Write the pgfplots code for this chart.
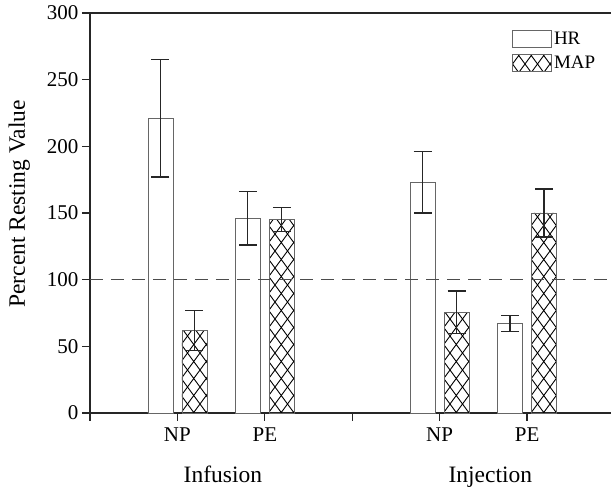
\documentclass[border=0pt]{standalone}
\usepackage{fontspec}
\setmainfont{Liberation Serif}
\usepackage{pgfplots}
\usepackage{pgfplotstable}
\pgfplotsset{compat=1.18}
\usetikzlibrary{patterns}

% big diamond crosshatch like the original
\pgfdeclarepatternformonly{xhatch}{\pgfqpoint{-1pt}{-1pt}}{\pgfqpoint{13.5pt}{18pt}}{\pgfqpoint{12.5pt}{17pt}}{%
  \pgfsetlinewidth{0.9pt}%
  \pgfpathmoveto{\pgfqpoint{0pt}{0pt}}\pgfpathlineto{\pgfqpoint{12.5pt}{17pt}}%
  \pgfpathmoveto{\pgfqpoint{0pt}{17pt}}\pgfpathlineto{\pgfqpoint{12.5pt}{0pt}}%
  \pgfusepath{stroke}}

\newcommand\tickfont{\fontsize{21}{24}\selectfont}
\newcommand\labfont{\fontsize{23.5}{26}\selectfont}
\newcommand\legfont{\fontsize{19}{21}\selectfont}

\pgfplotsset{
    boxleg/.style={legend image code/.code={\draw[##1] (0pt,-8.5pt) rectangle (39pt,8.5pt);}},
    errs/.style={error bars/.cd, y dir=both, y explicit,
        error bar style={line width=1.3pt, black!85},
        error mark options={rotate=90, mark size=9pt, line width=1.3pt, black!85}},
}

\pgfplotstableread{
x hr hrerr map maperr
1 221 44 62 15
2 146 20 145 9
4 173 23 75.5 16
5 67 6 150 18
}\datatable

\begin{document}
\begin{tikzpicture}
\path[use as bounding box] (-90pt,-76pt) rectangle (521pt,413pt);
\begin{axis}[
    at={(0,0)}, anchor=south west,
    scale only axis,
    width=521pt, height=400pt,
    xmin=0, xmax=5.96, ymin=0, ymax=300,
    ybar, bar width=25pt,
    axis x line*=bottom, axis y line*=left,
    axis line style={line width=1.2pt, black!85},
    xtick={0,...,5}, xticklabels={,NP,PE,,NP,PE},
    ytick={0,50,...,300},
    tick align=outside, major tick length=8pt,
    tick style={line width=1.2pt, black!85},
    tick label style={font=\tickfont},
    xticklabel style={yshift=-3pt},
    /pgf/number format/assume math mode=true,
    ylabel={Percent Resting Value},
    ylabel style={font=\labfont, at={(axis description cs:-0.136,0.5225)}, anchor=center},
    legend style={draw=none, fill=none, at={(axis description cs:0.81,0.9575)}, anchor=north west,
        inner sep=0pt, font=\legfont, row sep=6pt,
        /tikz/every even column/.append style={column sep=9pt}},
    legend cell align=left,
    clip=false,
]
\addplot[draw=black!60, line width=0.8pt, fill=white, bar shift=-17pt, boxleg, errs]
    table[x=x, y=hr, y error=hrerr]{\datatable};
\addplot[draw=black!60, line width=0.8pt, pattern=xhatch, bar shift=17pt, boxleg, errs]
    table[x=x, y=map, y error=maperr]{\datatable};
\addplot[sharp plot, forget plot, dash pattern=on 13pt off 8pt, line width=0.9pt, black!70]
    coordinates {(0,100) (5.96,100)};
\legend{HR,MAP}
\draw[line width=1.2pt, black!85] (rel axis cs:0,1) -- (rel axis cs:1,1);
\node[font=\labfont, anchor=base] at (axis cs:1.52,0) [yshift=-70pt] {Infusion};
\node[font=\labfont, anchor=base] at (axis cs:4.58,0) [yshift=-70pt] {Injection};
\end{axis}
\end{tikzpicture}
\end{document}
